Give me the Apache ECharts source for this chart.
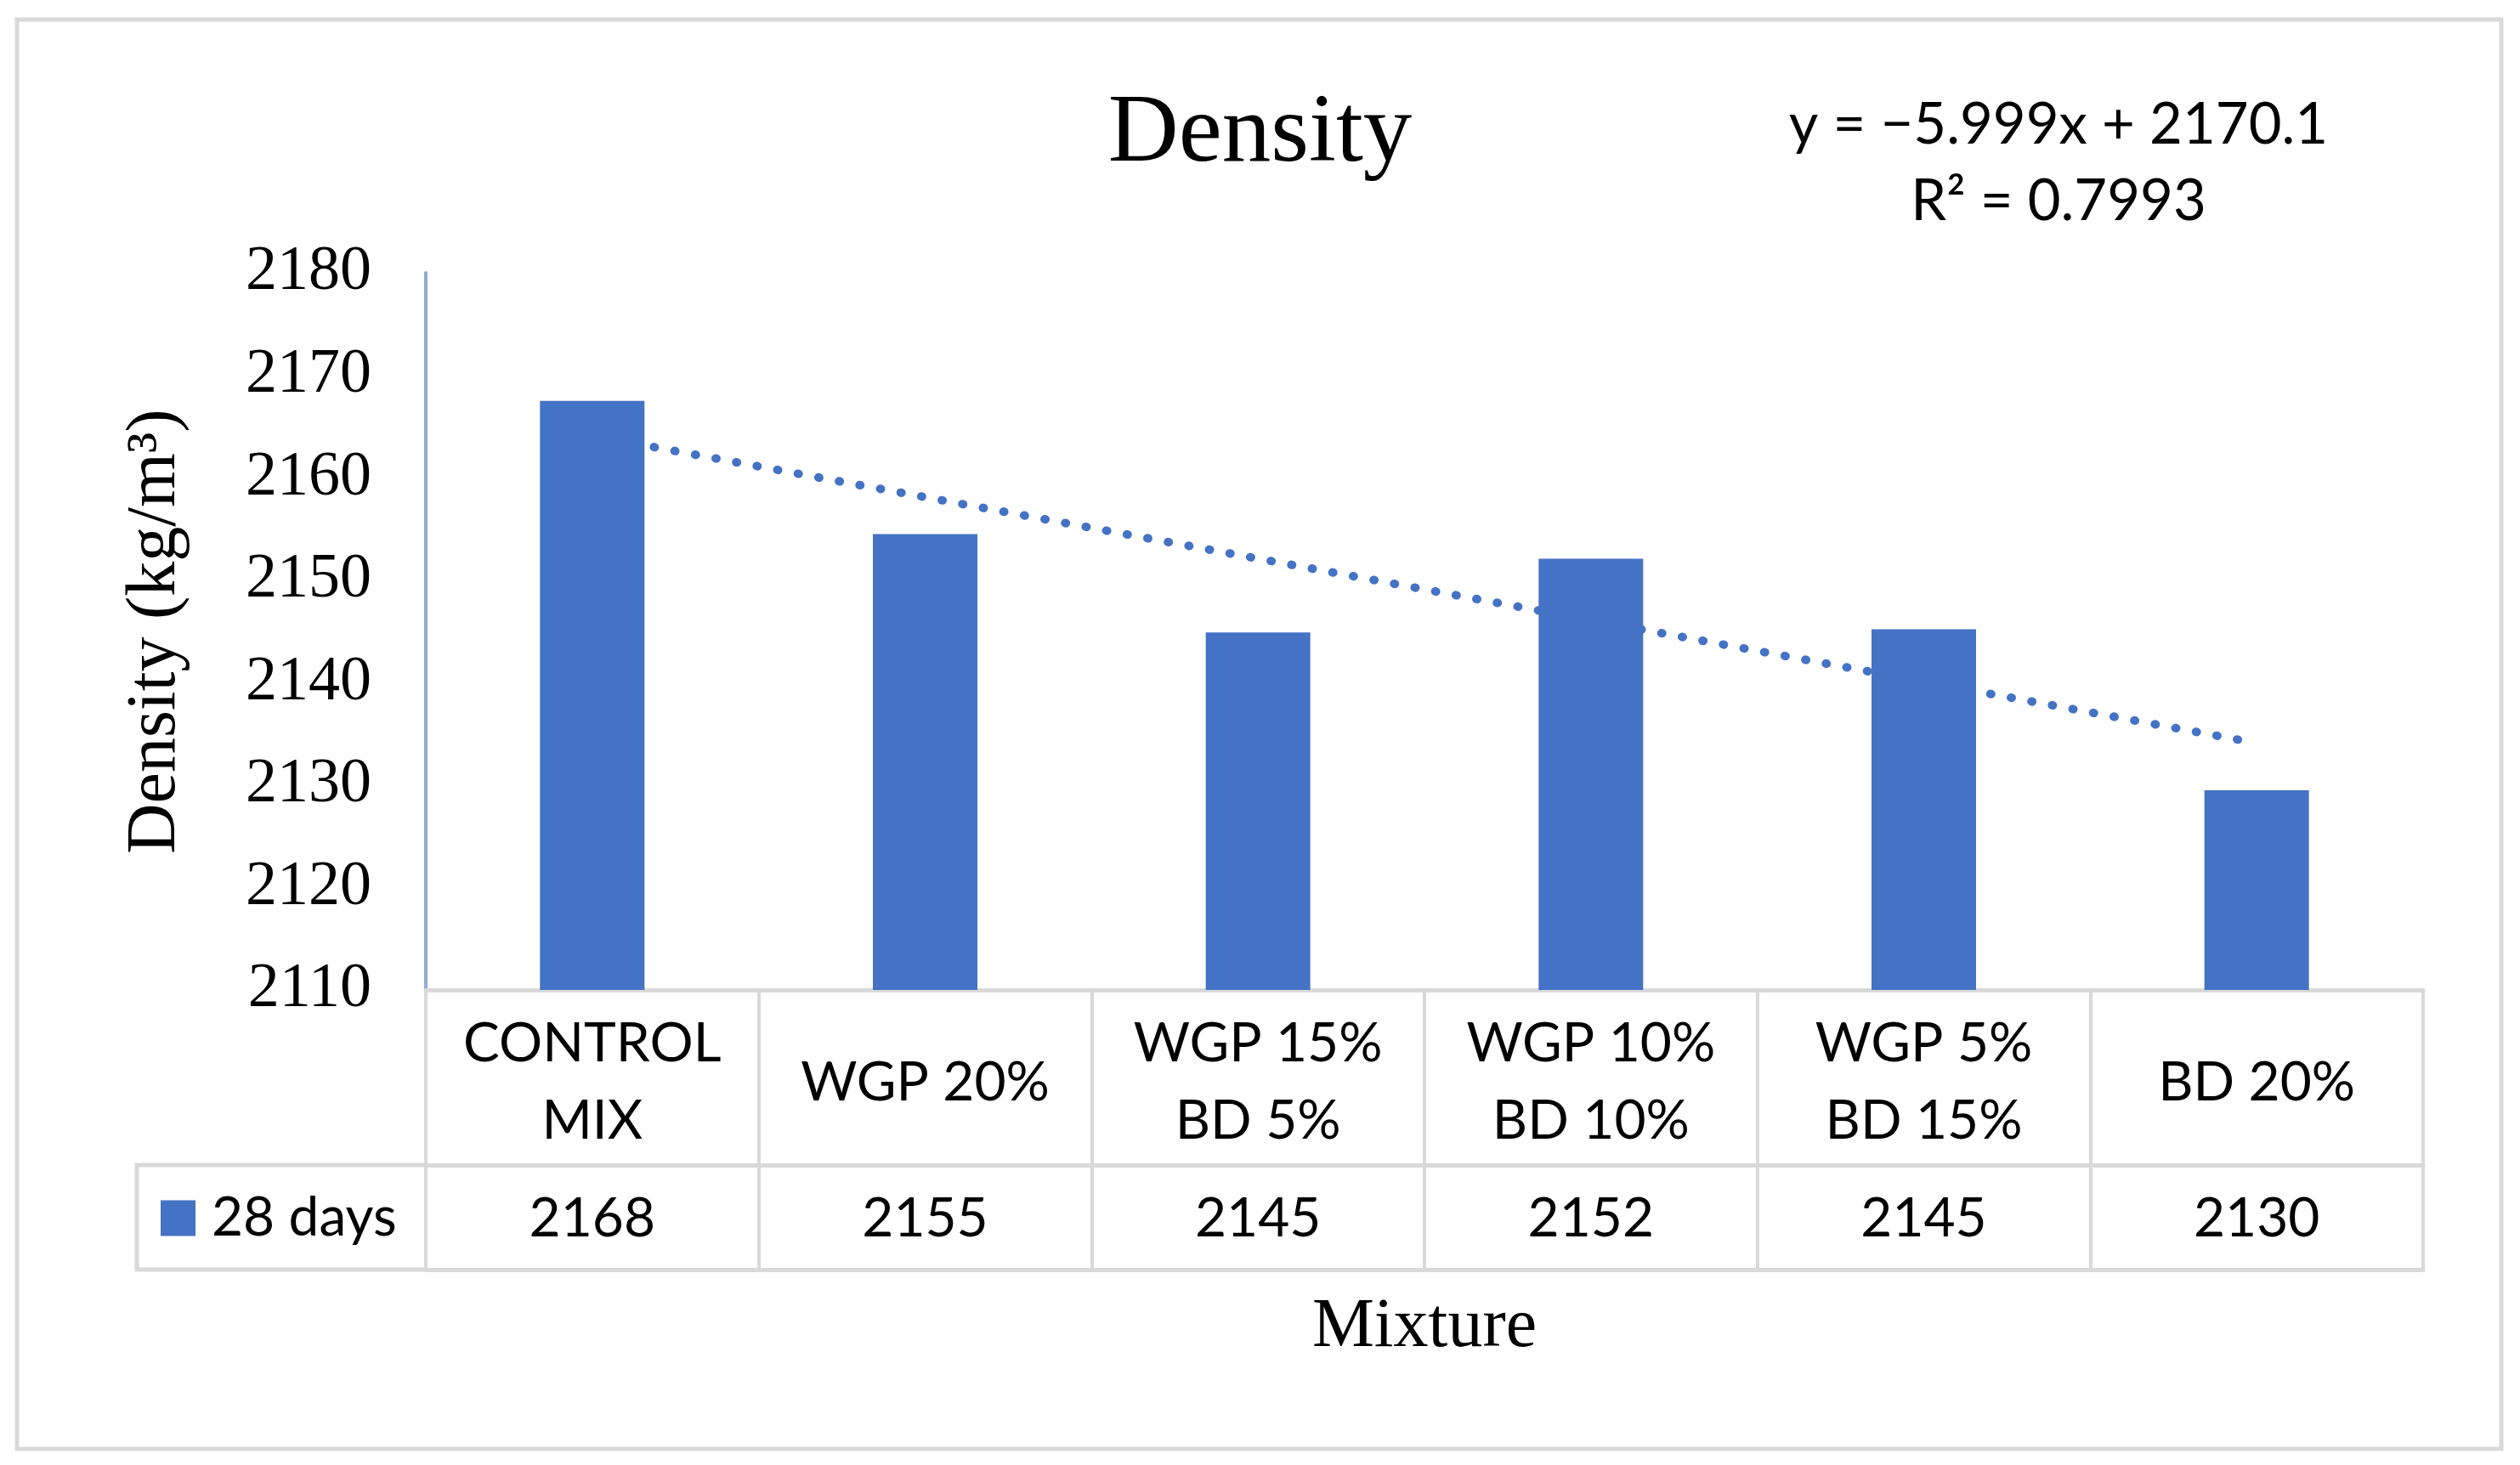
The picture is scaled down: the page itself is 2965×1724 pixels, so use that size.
<!DOCTYPE html>
<html><head><meta charset="utf-8">
<script src="https://cdn.jsdelivr.net/npm/echarts@6/dist/echarts.min.js"></script>
<style>html,body{margin:0;padding:0;background:#fff}#c{width:2965px;height:1724px}</style>
</head><body><div id="c"></div>
<script>
// ---- data ----
const categories = ['CONTROL\nMIX', 'WGP 20%', 'WGP 15%\nBD 5%', 'WGP 10%\nBD 10%', 'WGP 5%\nBD 15%', 'BD 20%'];
const density28 = [2167.5, 2154.5, 2144.9, 2152.1, 2145.2, 2129.5];   // bar heights
const tableValues = ['2168', '2155', '2145', '2152', '2145', '2130'];  // values printed in the data table
const seriesName = '28 days';
const yMin = 2110, yMax = 2180, yInterval = 10;
const trendEnds = [2164.1, 2134.1];           // linear trendline at first and last mixture
const trendText = ['y = −5.999x + 2170.1', 'R² = 0.7993'];

// ---- layout ----
const W = 2965, H = 1724;
const G = { left: 501, right: 114, top: 321, bottom: 559 };
const headerH = 206, dataH = 123, legendColLeft = 161;
const gridBottomY = H - G.bottom;
const gray = '#D9D9D9', blue = '#4472C4';
const serif = '"Liberation Serif", "Times New Roman", serif';
const sans = 'Lato, "Open Sans", sans-serif';

const chart = echarts.init(document.getElementById('c'), null, { renderer: 'canvas' });
const rowY = gridBottomY + headerH, botY = gridBottomY + headerH + dataH;

chart.setOption({
  animation: false,
  backgroundColor: '#fff',
  title: {
    text: 'Density', left: 'center', top: 96,
    textStyle: { fontFamily: serif, fontSize: 115, fontWeight: 'normal', color: '#000' }
  },
  legend: {
    data: [seriesName], left: 189, top: rowY + dataH / 2 - 31, padding: 0,
    icon: 'rect', itemWidth: 41, itemHeight: 42, selectedMode: false,
    textStyle: { fontFamily: sans, fontSize: 64, color: '#000', padding: [0, 0, 0, 14] }
  },
  grid: { left: G.left, right: G.right, top: G.top, bottom: G.bottom, containLabel: false },
  xAxis: [
    {
      type: 'category', data: categories, position: 'bottom',
      axisLine: { show: true, lineStyle: { color: gray, width: 5 } },
      axisTick: { show: true, interval: 0, length: headerH + dataH, lineStyle: { color: gray, width: 4 } },
      axisLabel: { interval: 0, margin: headerH / 2 + 6, verticalAlign: 'middle', fontFamily: sans, fontSize: 64, lineHeight: 91, color: '#000' },
      name: 'Mixture', nameLocation: 'middle', nameGap: 356,
      nameTextStyle: { fontFamily: serif, fontSize: 82, color: '#000' }
    },
    {
      type: 'category', data: categories, position: 'bottom', offset: headerH,
      axisLine: { show: true, lineStyle: { color: gray, width: 5 } },
      axisTick: { show: false },
      axisLabel: { interval: 0, margin: dataH / 2 + 2, verticalAlign: 'middle', fontFamily: sans, fontSize: 64, color: '#000',
        formatter: (v, i) => tableValues[i] }
    },
    {
      type: 'category', data: categories, position: 'bottom', offset: headerH + dataH,
      axisLine: { show: true, lineStyle: { color: gray, width: 5 } },
      axisTick: { show: false }, axisLabel: { show: false }
    }
  ],
  yAxis: {
    type: 'value', min: yMin, max: yMax, interval: yInterval,
    axisLine: { show: true, lineStyle: { color: '#8FAADC', width: 4 } },
    axisTick: { show: false }, splitLine: { show: false },
    axisLabel: { margin: 64, fontFamily: serif, fontSize: 74, color: '#000', formatter: v => String(v) },
    name: 'Density (kg/m³)', nameLocation: 'middle', nameRotate: 90, nameGap: 277,
    nameTextStyle: { fontFamily: serif, fontSize: 82, color: '#000' }
  },
  series: [
    {
      name: 'Linear trend', type: 'line', xAxisIndex: 0, z: 1, symbol: 'none', silent: true,
      data: [[0, trendEnds[0]], [categories.length - 1, trendEnds[1]]],
      lineStyle: { color: blue, width: 10, type: [1, 23.6], cap: 'round' }
    },
    {
      name: seriesName, type: 'bar', xAxisIndex: 0, z: 3, barWidth: 123,
      data: density28, itemStyle: { color: blue }
    }
  ],
  graphic: [
    { type: 'rect', silent: true, shape: { x: 20, y: 23, width: 2923, height: 1682 },
      style: { fill: 'none', stroke: gray, lineWidth: 5 } },
    { type: 'polyline', silent: true,
      shape: { points: [[G.left, rowY], [legendColLeft, rowY], [legendColLeft, botY], [G.left, botY]] },
      style: { fill: 'none', stroke: gray, lineWidth: 5 } },
    { type: 'text', silent: true, x: 2422, y: 192,
      style: { text: trendText.join('\n'), font: '67px ' + sans, fill: '#000', align: 'center', verticalAlign: 'middle', lineHeight: 90 } }
  ]
});
</script></body></html>
